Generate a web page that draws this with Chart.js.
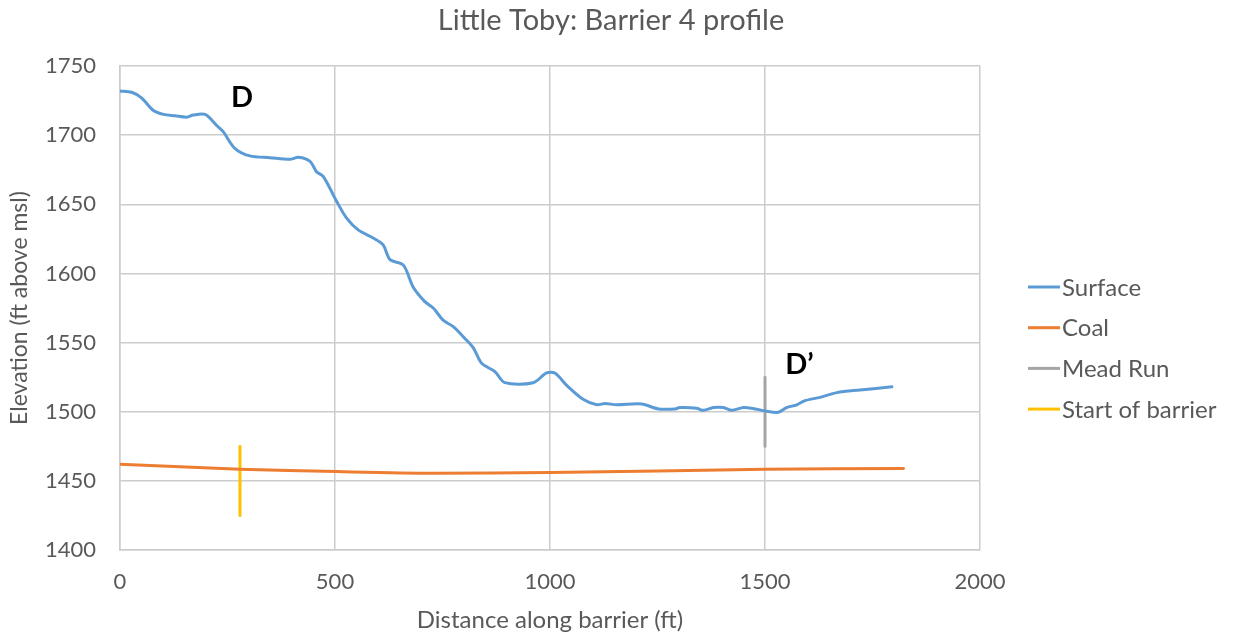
<!DOCTYPE html>
<html>
<head>
<meta charset="utf-8">
<script src="https://cdn.jsdelivr.net/npm/chart.js@4/dist/chart.umd.min.js"></script>
<style>
  html, body { margin: 0; padding: 0; background: #fff; }
  #wrap { width: 1234px; height: 641px; }
</style>
</head>
<body>
<div id="wrap"><canvas id="profile"></canvas></div>
<script>
// surface profile along the barrier line
var surfaceDist = [0, 27, 50, 77, 101, 128, 155, 170, 198, 225, 240, 267, 302, 349, 395, 415, 442, 457, 473,
  504, 527, 554, 589, 612, 628, 659, 682, 709, 729, 752, 775, 802, 822, 841, 872, 895, 961, 992, 1012,
  1039, 1077, 1109, 1128, 1155, 1213, 1252, 1291, 1302, 1341, 1357, 1380, 1403, 1423, 1450, 1477, 1500,
  1531, 1550, 1574, 1593, 1628, 1667, 1721, 1795];
var surfaceElev = [1732, 1731, 1727, 1718, 1715, 1714, 1713, 1714.5, 1715, 1707, 1702.5, 1690.5, 1685, 1683.7, 1682.5, 1684, 1681, 1673.6, 1670,
  1652, 1640, 1631.5, 1625.6, 1620.6, 1610, 1606, 1590, 1579.6, 1574.8, 1566, 1561.5, 1553, 1546, 1535, 1529, 1521, 1521, 1528, 1527.8,
  1519, 1509, 1505, 1506, 1505, 1505.6, 1502, 1502, 1503, 1502.5, 1501, 1503, 1503, 1501, 1503, 1502, 1500.6,
  1499.6, 1503, 1505, 1508, 1510.4, 1513.8, 1515.7, 1518];

// coal seam elevation
var coalDist = [0, 279, 504, 729, 1000, 1500, 1822];
var coalElev = [1462, 1458.4, 1456.7, 1455.5, 1456, 1458.4, 1459];

// stream crossing and barrier start markers
var meadRunDist = [1500, 1500];
var meadRunElev = [1525, 1475];
var barrierDist = [279, 279];
var barrierElev = [1475, 1425];

// section end labels
var markText = ['D', 'D\u2019'];
var markDist = [284, 1580];
var markElev = [1727, 1534];

var xTicks = [0, 500, 1000, 1500, 2000];
var yTicks = [1400, 1450, 1500, 1550, 1600, 1650, 1700, 1750];

var chartTitle = 'Little Toby: Barrier 4 profile';

function pts(xs, ys) {
  return xs.map(function (x, i) { return { x: x, y: ys[i] }; });
}

var textGray = '#595959';
var gridGray = '#cccccc';
var fontName = 'Lato, "Open Sans", sans-serif';

// title centred on the whole canvas, not just the plot
var topTitle = {
  id: 'topTitle',
  afterDraw: function (chart) {
    var c = chart.ctx;
    c.save();
    c.fillStyle = textGray;
    c.font = '29px ' + fontName;
    c.textAlign = 'center';
    c.textBaseline = 'middle';
    c.fillText(chartTitle, chart.width / 2 - 6, 21);
    c.restore();
  }
};

var endLabels = {
  id: 'endLabels',
  afterDatasetsDraw: function (chart) {
    var c = chart.ctx;
    c.save();
    c.fillStyle = '#000';
    c.font = 'bold 29px ' + fontName;
    c.textAlign = 'center';
    c.textBaseline = 'middle';
    markText.forEach(function (t, i) {
      c.fillText(t, chart.scales.x.getPixelForValue(markDist[i]), chart.scales.y.getPixelForValue(markElev[i]));
    });
    c.restore();
  }
};

var sideLegend = {
  id: 'sideLegend',
  afterDraw: function (chart) {
    var c = chart.ctx;
    var x0 = chart.chartArea.right + 48;
    var y0 = chart.chartArea.top + 221;
    c.save();
    c.font = '24px ' + fontName;
    c.textBaseline = 'middle';
    chart.data.datasets.forEach(function (ds, i) {
      var y = y0 + i * 40.7;
      c.strokeStyle = ds.borderColor;
      c.lineWidth = 3;
      c.beginPath();
      c.moveTo(x0, y);
      c.lineTo(x0 + 32, y);
      c.stroke();
      c.fillStyle = textGray;
      c.fillText(ds.label, x0 + 34, y + 1);
    });
    c.restore();
  }
};

new Chart(document.getElementById('profile'), {
  type: 'line',
  data: {
    datasets: [
      { label: 'Surface', data: pts(surfaceDist, surfaceElev), borderColor: '#5b9bd5', borderWidth: 3, tension: 0.3 },
      { label: 'Coal', data: pts(coalDist, coalElev), borderColor: '#ed7d31', borderWidth: 3, tension: 0.3 },
      { label: 'Mead Run', data: pts(meadRunDist, meadRunElev), borderColor: '#a5a5a5', borderWidth: 3 },
      { label: 'Start of barrier', data: pts(barrierDist, barrierElev), borderColor: '#ffc000', borderWidth: 3 }
    ]
  },
  options: {
    responsive: true,
    maintainAspectRatio: false,
    animation: false,
    elements: { point: { radius: 0 }, line: { tension: 0, borderCapStyle: 'round', borderJoinStyle: 'round' } },
    layout: { padding: { top: 66, right: 254, bottom: 0, left: 0 } },
    plugins: {
      legend: { display: false },
      tooltip: { enabled: false },
      title: { display: false }
    },
    scales: {
      x: {
        type: 'linear',
        min: 0, max: 2000,
        afterBuildTicks: function (s) { s.ticks = xTicks.map(function (v) { return { value: v }; }); },
        afterFit: function (s) { s.height = 91; },
        grid: { color: gridGray, lineWidth: 1.5, drawTicks: false },
        border: { color: gridGray, width: 1.5 },
        ticks: {
          color: textGray, font: { family: fontName, size: 22 }, padding: 19,
          callback: function (v) { return String(v); }
        },
        title: {
          display: true, text: 'Distance along barrier (ft)', color: textGray,
          font: { family: fontName, size: 24 }, padding: { top: 0, bottom: 6 }
        }
      },
      y: {
        min: 1400, max: 1750,
        afterBuildTicks: function (s) { s.ticks = yTicks.map(function (v) { return { value: v }; }); },
        afterFit: function (s) { s.width = 120; },
        grid: { color: gridGray, lineWidth: 1.5, drawTicks: false },
        border: { color: gridGray, width: 1.5 },
        ticks: {
          color: textGray, font: { family: fontName, size: 22 }, padding: 24,
          callback: function (v) { return String(v); }
        },
        title: {
          display: true, text: 'Elevation (ft above msl)', color: textGray,
          font: { family: fontName, size: 23 }, padding: { top: 6, bottom: 0 }
        }
      }
    }
  },
  plugins: [topTitle, endLabels, sideLegend]
});
</script>
</body>
</html>
